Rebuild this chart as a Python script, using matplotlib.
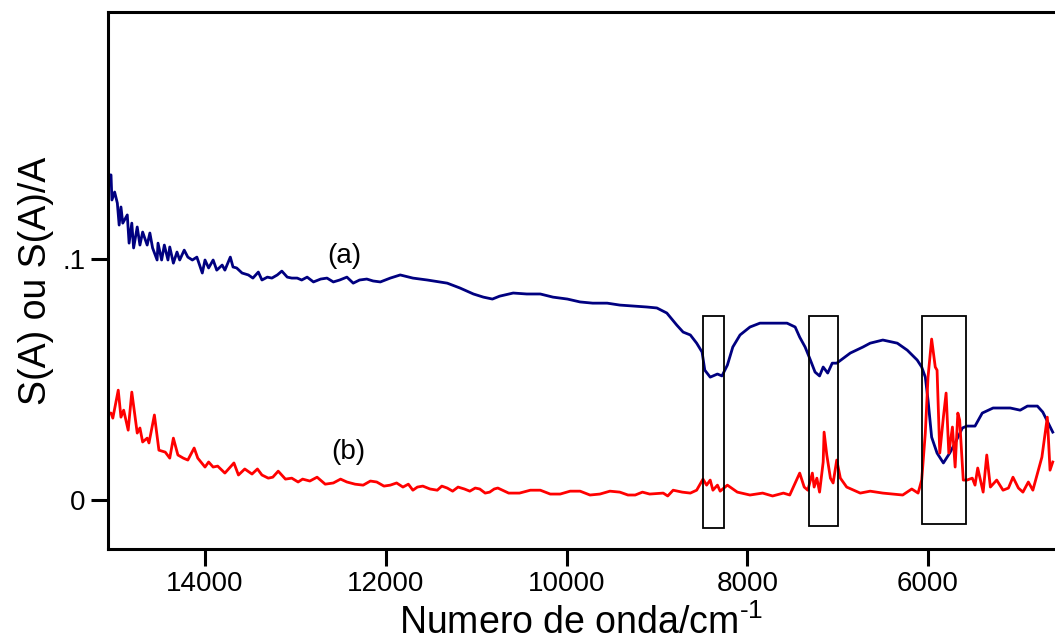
import numpy as np
import matplotlib
matplotlib.use("Agg")
import matplotlib.pyplot as plt
from matplotlib.patches import Rectangle

plt.rcParams['font.family'] = ['Liberation Sans', 'DejaVu Sans']
plt.rcParams['mathtext.fontset'] = 'custom'
plt.rcParams['mathtext.rm'] = 'Liberation Sans'
plt.rcParams['mathtext.it'] = 'Liberation Sans:italic'

# curve (a): S(A)
wn_a = [15070, 15040, 15030, 15000, 14970, 14950, 14930, 14910, 14860, 14840, 14810,
        14790, 14750, 14720, 14690, 14640, 14610, 14580, 14530, 14520, 14480, 14450,
        14410, 14390, 14350, 14310, 14280, 14230, 14190, 14140, 14090, 14030, 14000,
        13960, 13910, 13870, 13810, 13780, 13720, 13690, 13650, 13590, 13520, 13470,
        13410, 13370, 13310, 13260, 13200, 13150, 13090, 13040, 12980, 12930, 12870,
        12800, 12720, 12650, 12580, 12510, 12430, 12360, 12290, 12210, 12140, 12060,
        11950, 11840, 11700, 11540, 11320, 11180,
        11030, 10920, 10820, 10740, 10590, 10440, 10290, 10150, 9990, 9850, 9710,
        9550, 9410, 9260, 9110, 9000, 8890, 8780, 8710, 8630, 8560, 8500, 8470,
        8410, 8330, 8280, 8220, 8160, 8080, 7970, 7860, 7720, 7560, 7470, 7420,
        7360, 7310, 7250, 7200, 7160, 7110, 7060, 7010, 6860, 6720, 6640, 6500,
        6340, 6230, 6120, 6070, 6030, 6000, 5960, 5900, 5830, 5760, 5700, 5620,
        5570, 5480, 5400, 5280, 5090, 4980, 4900, 4790, 4730, 4670, 4620]
val_a = [0.1349, 0.1349, 0.1245, 0.1278, 0.1232, 0.1141, 0.1216, 0.1149, 0.1183, 0.1066,
         0.1149, 0.1046, 0.1133, 0.1058, 0.1112, 0.1058, 0.1108, 0.1046, 0.0996, 0.1066,
         0.0996, 0.1058, 0.0996, 0.1050, 0.0983, 0.1029, 0.0996, 0.1037, 0.1008, 0.0996,
         0.1008, 0.0942, 0.0996, 0.0963, 0.0996, 0.0954, 0.0975, 0.0954, 0.1008, 0.0967,
         0.0963, 0.0942, 0.0934, 0.0921, 0.0946, 0.0913, 0.0925, 0.0921, 0.0934, 0.0950,
         0.0925, 0.0921, 0.0921, 0.0913, 0.0925, 0.0905, 0.0917, 0.0921, 0.0905, 0.0913,
         0.0925, 0.0900, 0.0913, 0.0917, 0.0909, 0.0905,
         0.0921, 0.0934, 0.0921, 0.0913, 0.0900, 0.0880, 0.0855, 0.0842, 0.0834, 0.0846,
         0.0859, 0.0855, 0.0855, 0.0842, 0.0834, 0.0822, 0.0817, 0.0817, 0.0809, 0.0805,
         0.0801, 0.0797, 0.0776, 0.0726, 0.0697, 0.0685, 0.0651, 0.0614, 0.0539, 0.0510,
         0.0523, 0.0515, 0.0560, 0.0635, 0.0685, 0.0718, 0.0734, 0.0734, 0.0734, 0.0718,
         0.0676, 0.0635, 0.0589, 0.0531, 0.0515, 0.0552, 0.0527, 0.0568, 0.0568, 0.0610,
         0.0635, 0.0651, 0.0664, 0.0651, 0.0622, 0.0581, 0.0552, 0.0510, 0.0415, 0.0261,
         0.0195, 0.0154, 0.0195, 0.0237, 0.0299, 0.0307, 0.0307, 0.0361, 0.0382, 0.0382,
         0.0373, 0.0390, 0.0390, 0.0365, 0.0320, 0.0282]

# curve (b): S(A)/A
wn_b = [15070, 15040, 15020, 14960, 14930, 14900, 14850, 14810, 14750, 14720, 14690,
        14640, 14620, 14560, 14510, 14440, 14390, 14350, 14300, 14240, 14190, 14120,
        14080, 14000, 13960, 13910, 13860, 13780, 13720, 13680, 13630, 13560, 13480,
        13420, 13370, 13300, 13250, 13190, 13110, 13040, 12970, 12920, 12840, 12760,
        12670, 12580, 12500, 12430, 12340, 12250, 12170, 12100, 12020, 11950, 11880,
        11810, 11750, 11700, 11650, 11590, 11510, 11430, 11380, 11320, 11260, 11200,
        11130, 11070, 11010, 10960, 10900, 10850, 10800, 10760, 10640, 10520, 10400,
        10290, 10180, 10070, 9960, 9850, 9740, 9630, 9520, 9410, 9320, 9240, 9160, 9080,
        8930, 8880, 8820, 8720, 8630, 8560, 8490, 8450, 8410, 8380, 8330, 8300,
        8220, 8110, 7970, 7830, 7720, 7600, 7530, 7470, 7420, 7370, 7330, 7280,
        7260, 7230, 7200, 7160, 7150, 7120, 7080, 7050, 7010, 6970, 6900, 6750,
        6640, 6500, 6280, 6180, 6110, 6070, 6030, 6000, 5960, 5920, 5900, 5870,
        5830, 5800, 5770, 5730, 5700, 5670, 5650, 5610, 5570, 5510, 5480, 5450,
        5390, 5350, 5310, 5240, 5170, 5110, 5060, 5000, 4950, 4890, 4840, 4780,
        4740, 4710, 4680, 4650, 4620]
val_b = [0.0361, 0.0361, 0.0340, 0.0456, 0.0344, 0.0373, 0.0290, 0.0448, 0.0278, 0.0299,
         0.0241, 0.0257, 0.0237, 0.0353, 0.0207, 0.0199, 0.0174, 0.0257, 0.0187, 0.0174,
         0.0166, 0.0216, 0.0174, 0.0137, 0.0158, 0.0137, 0.0141, 0.0112, 0.0137, 0.0154,
         0.0104, 0.0129, 0.0108, 0.0129, 0.0104, 0.0091, 0.0095, 0.0120, 0.0087, 0.0091,
         0.0075, 0.0087, 0.0079, 0.0095, 0.0066, 0.0071, 0.0087, 0.0075, 0.0066, 0.0062,
         0.0079, 0.0075, 0.0058, 0.0062, 0.0071, 0.0054, 0.0066, 0.0041, 0.0054, 0.0058,
         0.0046, 0.0041, 0.0058, 0.0050, 0.0037, 0.0054, 0.0046, 0.0037, 0.0050, 0.0046,
         0.0029, 0.0033, 0.0046, 0.0050, 0.0029, 0.0029, 0.0041, 0.0041, 0.0025, 0.0025,
         0.0037, 0.0037, 0.0021, 0.0025, 0.0037, 0.0033, 0.0021, 0.0021, 0.0033, 0.0025,
         0.0029, 0.0017, 0.0041, 0.0033,
         0.0029, 0.0041, 0.0087, 0.0062, 0.0083, 0.0041, 0.0062, 0.0037, 0.0062, 0.0033,
         0.0021, 0.0029, 0.0017, 0.0029, 0.0021, 0.0071, 0.0112, 0.0054, 0.0041, 0.0112,
         0.0054, 0.0091, 0.0033, 0.0158, 0.0282, 0.0187, 0.0091, 0.0071, 0.0166, 0.0091,
         0.0054, 0.0029, 0.0037, 0.0029, 0.0021, 0.0046, 0.0029, 0.0083, 0.0278, 0.0510,
         0.0668, 0.0552, 0.0539, 0.0195, 0.0344, 0.0444, 0.0195, 0.0303, 0.0137, 0.0361,
         0.0332, 0.0083, 0.0083, 0.0091, 0.0062, 0.0133, 0.0033, 0.0187, 0.0054, 0.0083,
         0.0041, 0.0050, 0.0095, 0.0050, 0.0033, 0.0075, 0.0041, 0.0124, 0.0178, 0.0261,
         0.0344, 0.0124, 0.0158]

# highlighted bands: (high wn, low wn, bottom, top)
boxes = [(8490, 8260, -0.0116, 0.0763),
         (7320, 7000, -0.0108, 0.0763),
         (6070, 5580, -0.0100, 0.0763)]

labels = ['(a)', '(b)']
label_pos = [(12460, 0.1012), (12410, 0.0199)]

fig = plt.figure(figsize=(10.55, 6.44), dpi=100)
ax = fig.add_axes([0.1024, 0.1475, 0.8976, 0.8339])

ax.plot(wn_a, val_a, color='#000080', lw=2.0)
ax.plot(wn_b, val_b, color='#ff0000', lw=2.0)

for x1, x2, y1, y2 in boxes:
    ax.add_patch(Rectangle((x2, y1), x1 - x2, y2 - y1, fill=False,
                           edgecolor='black', lw=1.3, zorder=3))

for t, (x, y) in zip(labels, label_pos):
    ax.text(x, y, t, fontsize=20, ha='center', va='center')

ax.set_xlim(15073, 4595)
ax.set_ylim(-0.0203, 0.2025)
ax.set_xticks([14000, 12000, 10000, 8000, 6000])
ax.set_xticklabels(['14000', '12000', '10000', '8000', '6000'])
ax.set_yticks([0, 0.1])
ax.set_yticklabels(['0', '.1'])
ax.tick_params(axis='both', direction='out', length=12, width=2.2, labelsize=20, pad=4)

for s in ['left', 'top', 'bottom']:
    ax.spines[s].set_linewidth(2.2)
ax.spines['right'].set_visible(False)

ax.set_xlabel('Numero de onda/cm$^{\\text{-1}}$', fontsize=27, labelpad=5)
ax.set_ylabel('S(A) ou S(A)/A', fontsize=27, labelpad=6)

fig.savefig('out.png', dpi=100)
